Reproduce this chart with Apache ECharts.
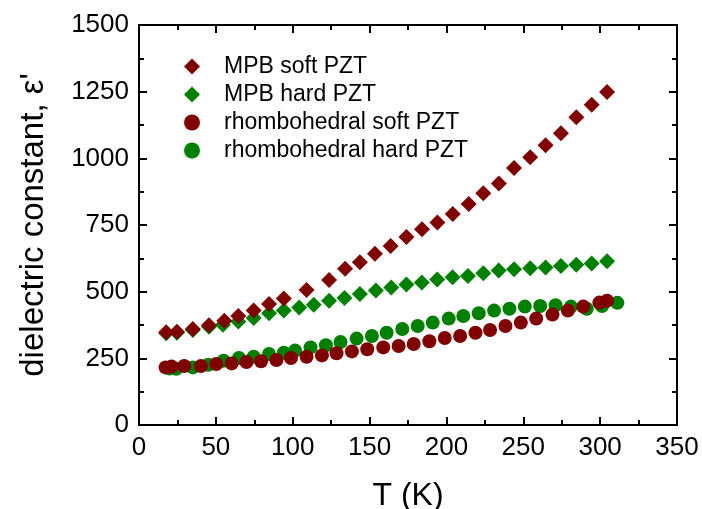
<!DOCTYPE html>
<html>
<head>
<meta charset="utf-8">
<script src="https://cdn.jsdelivr.net/npm/echarts@6/dist/echarts.min.js"></script>
<style>html,body{margin:0;padding:0;background:#fff;}#c{width:702px;height:509px;}</style>
</head>
<body>
<div id="c"></div>
<script>
var names = ['MPB soft PZT', 'MPB hard PZT', 'rhombohedral soft PZT', 'rhombohedral hard PZT'];

var mpbSoftT = [17.7, 24.7, 35, 45.5, 55.5, 64.6, 74.6, 84.6, 94.2, 109, 123.7, 134.1, 143.7, 153.5, 163.7, 174, 184.1, 194.1, 204.1, 214.5, 224, 234.1, 244, 254.5, 264.5, 274.5, 284.5, 294.5, 304.5];
var mpbSoftV = [348, 350, 360, 374, 391, 409, 429, 454, 474, 506, 544, 586, 610, 642, 671, 705, 734, 759, 791, 829, 869, 906, 964, 1004, 1049, 1094, 1154, 1201, 1249];

var mpbHardT = [17.7, 24.7, 35, 45.5, 54.6, 64.6, 74.6, 84.6, 94.2, 104.2, 113.7, 123.7, 133.7, 143.7, 154.1, 164.1, 174, 184, 194, 204, 214, 224, 234, 244, 254.5, 264.5, 274.5, 284.5, 294.5, 304.5];
var mpbHardV = [344, 346, 356, 368, 376, 388, 401, 419, 429, 441, 451, 466, 476, 491, 504, 516, 527, 534, 546, 554, 559, 569, 579, 584, 588, 591, 596, 601, 606, 614];

var rhSoftT = [17.3, 21.2, 29.4, 40.3, 50.3, 60.3, 69.9, 79.4, 89.4, 98.9, 109, 119, 128.5, 138.5, 148.5, 158.9, 168.9, 178.7, 188.9, 198.9, 208.9, 218.9, 228.4, 238.4, 248.4, 258.4, 269, 279, 289, 299.5, 304.5];
var rhSoftV = [216, 219, 221, 221, 229, 231, 236, 239, 244, 251, 256, 261, 269, 276, 284, 291, 296, 304, 314, 326, 334, 346, 356, 371, 384, 399, 414, 429, 444, 459, 466];

var rhHardT = [20, 24.2, 35, 45.1, 55, 65, 74.6, 84.6, 94.2, 101.5, 111.6, 121.6, 131.1, 141.6, 151.5, 161.1, 171.3, 181.3, 191.1, 201.5, 211, 221, 231, 241, 251, 261, 271, 281, 291.3, 301.2, 311.2];
var rhHardV = [212, 211, 216, 226, 241, 251, 256, 266, 271, 279, 291, 299, 311, 324, 334, 346, 360, 371, 384, 399, 409, 419, 429, 436, 444, 446, 449, 444, 436, 446, 458];

var xTicks = [0, 50, 100, 150, 200, 250, 300, 350];
var yTicks = [0, 250, 500, 750, 1000, 1250, 1500];

function pairs(t, v) { return t.map(function (x, i) { return [x, v[i]]; }); }

var RED = '#800000', GREEN = '#008000';
var FONT = 'Liberation Sans, Arial, sans-serif';

var axisCommon = {
  axisLine: { show: true, onZero: false, lineStyle: { color: '#000', width: 2 } },
  axisTick: { show: true, inside: true, length: 8, lineStyle: { color: '#000', width: 2 } },
  minorTick: { show: true, splitNumber: 2, length: 5, lineStyle: { color: '#000', width: 2 } },
  splitLine: { show: false }
};

function xAx(pos, show) {
  return Object.assign({}, axisCommon, {
    type: 'value', position: pos, min: xTicks[0], max: xTicks[xTicks.length - 1], interval: 50,
    name: show ? 'T (K)' : '', nameLocation: 'middle', nameGap: 55,
    nameTextStyle: { fontFamily: FONT, fontSize: 32, color: '#000' },
    axisLabel: { show: show, fontFamily: FONT, fontSize: 26, color: '#000', margin: 10,
      formatter: function (v) { return String(v); } }
  });
}
function yAx(pos, show) {
  return Object.assign({}, axisCommon, {
    type: 'value', position: pos, min: yTicks[0], max: yTicks[yTicks.length - 1], interval: 250,
    name: show ? "dielectric constant, \u03B5'" : '', nameLocation: 'middle', nameGap: 89,
    nameTextStyle: { fontFamily: FONT, fontSize: 33, color: '#000' },
    axisLabel: { show: show, fontFamily: FONT, fontSize: 26, color: '#000', margin: 10,
      formatter: function (v) { return String(v); } }
  });
}

var chart = echarts.init(document.getElementById('c'), null, { renderer: 'canvas' });
chart.setOption({
  animation: false,
  backgroundColor: '#fff',
  grid: { left: 139, right: 25, top: 25, bottom: 84, containLabel: false, outerBoundsMode: 'none' },
  xAxis: [xAx('bottom', true), xAx('top', false)],
  yAxis: [yAx('left', true), yAx('right', false)],
  legend: {
    orient: 'vertical', left: 179, top: 50, itemWidth: 16, itemHeight: 16, itemGap: 5, padding: 5,
    textStyle: { fontFamily: FONT, fontSize: 23, color: '#000', lineHeight: 23, padding: [0, 0, 0, 19] },
    data: [
      { name: names[0], icon: 'diamond' },
      { name: names[1], icon: 'diamond' },
      { name: names[2], icon: 'circle' },
      { name: names[3], icon: 'circle' }
    ]
  },
  series: [
    { name: names[1], type: 'scatter', symbol: 'diamond', symbolSize: 16, itemStyle: { color: GREEN, opacity: 1 }, data: pairs(mpbHardT, mpbHardV) },
    { name: names[3], type: 'scatter', symbol: 'circle', symbolSize: 14, itemStyle: { color: GREEN, opacity: 1 }, data: pairs(rhHardT, rhHardV) },
    { name: names[0], type: 'scatter', symbol: 'diamond', symbolSize: 16, itemStyle: { color: RED, opacity: 1 }, data: pairs(mpbSoftT, mpbSoftV) },
    { name: names[2], type: 'scatter', symbol: 'circle', symbolSize: 14, itemStyle: { color: RED, opacity: 1 }, data: pairs(rhSoftT, rhSoftV) }
  ]
});
</script>
</body>
</html>
